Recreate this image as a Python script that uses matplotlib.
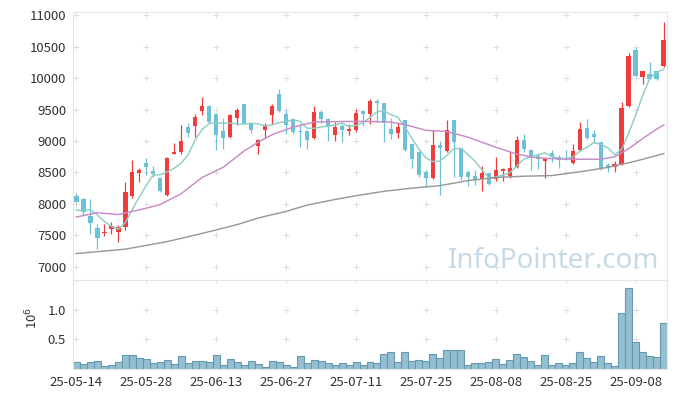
import matplotlib
matplotlib.use('Agg')
import matplotlib.pyplot as plt
import numpy as np
import pandas as pd

# daily candles, 25-05-14 .. 25-09-12 (85 trading days)
opens = [8120, 8085, 7802, 7614, 7540, 7598, 7550, 7630, 8123, 8497,
         8652, 8525, 8406, 8144, 8800, 8818, 9225, 9232, 9484, 9563,
         9421, 9153, 9063, 9368, 9590, 9284, 8921, 9168, 9416, 9747,
         9432, 9353, 9158, 9153, 9048, 9468, 9353, 9090, 9232, 9153,
         9168, 9484, 9432, 9642, 9605, 9195, 9126, 9326, 8947, 8826,
         8511, 8406, 8932, 8842, 9326, 8890, 8513, 8444, 8392, 8487,
         8392, 8530, 8445, 8593, 9017, 8857, 8766, 8678, 8815, 8752,
         8730, 8646, 8858, 9201, 9111, 8990, 8620, 8593, 8630, 9556,
         10445, 10021, 10058, 10111, 10196]
highs = [8165, 8100, 8085, 7684, 7673, 7711, 7660, 8353, 8700, 8577,
         8727, 8600, 8430, 8738, 8968, 9246, 9285, 9432, 9695, 9570,
         9430, 9368, 9421, 9526, 9590, 9300, 9037, 9284, 9590, 9826,
         9495, 9368, 9274, 9168, 9563, 9495, 9368, 9300, 9274, 9274,
         9510, 9495, 9668, 9668, 9605, 9368, 9284, 9337, 8958, 8842,
         8537, 9179, 8995, 9337, 9337, 8895, 8540, 8540, 8608, 8497,
         8751, 8577, 8830, 9085, 9111, 8874, 8793, 8730, 8858, 8778,
         8860, 8947, 9297, 9344, 9175, 8990, 8646, 8683, 9614, 10392,
         10471, 10111, 10259, 10111, 10894]
lows = [8010, 7818, 7523, 7283, 7497, 7523, 7390, 7577, 8100, 8342,
        8460, 8420, 8190, 8133, 8786, 8797, 9065, 9063, 9416, 9284,
        8853, 8879, 9053, 9258, 9274, 9127, 8800, 9053, 9274, 9458,
        9116, 9105, 8906, 8869, 9037, 9284, 9000, 9000, 8984, 9090,
        9142, 9232, 9274, 9300, 8984, 9037, 9053, 8842, 8563, 8432,
        8264, 8390, 8143, 8826, 8432, 8380, 8277, 8302, 8212, 8302,
        8365, 8365, 8404, 8577, 8830, 8539, 8555, 8408, 8672, 8567,
        8690, 8635, 8847, 9032, 8974, 8545, 8514, 8514, 8620, 9545,
        10032, 9905, 9979, 9974, 10180]
closes = [8030, 7866, 7695, 7454, 7560, 7652, 7630, 8187, 8502, 8540,
          8594, 8470, 8208, 8727, 8830, 9005, 9130, 9379, 9563, 9300,
          9100, 9053, 9405, 9495, 9284, 9168, 9010, 9247, 9563, 9474,
          9247, 9142, 9137, 9011, 9468, 9353, 9221, 9221, 9168, 9184,
          9442, 9432, 9642, 9610, 9290, 9116, 9221, 8853, 8711, 8458,
          8406, 8932, 8890, 9179, 8984, 8432, 8422, 8380, 8497, 8312,
          8540, 8556, 8577, 9017, 8874, 8730, 8715, 8715, 8752, 8699,
          8715, 8842, 9191, 9053, 9069, 8577, 8567, 8630, 9519, 10349,
          10037, 10111, 9979, 9979, 10603]
# volume in millions
volumes = [0.113, 0.085, 0.113, 0.13, 0.05, 0.068, 0.113, 0.23, 0.23, 0.18,
           0.164, 0.096, 0.113, 0.147, 0.079, 0.215, 0.096, 0.13, 0.13, 0.113,
           0.23, 0.062, 0.164, 0.113, 0.068, 0.13, 0.079, 0.034, 0.13, 0.113,
           0.062, 0.034, 0.215, 0.096, 0.147, 0.13, 0.096, 0.062, 0.096, 0.062,
           0.113, 0.068, 0.113, 0.096, 0.25, 0.28, 0.113, 0.28, 0.13, 0.147,
           0.13, 0.25, 0.18, 0.316, 0.316, 0.316, 0.062, 0.096, 0.096, 0.113,
           0.164, 0.079, 0.147, 0.25, 0.198, 0.13, 0.062, 0.23, 0.062, 0.096,
           0.062, 0.096, 0.28, 0.18, 0.113, 0.215, 0.096, 0.045, 0.944, 1.367,
           0.452, 0.28, 0.215, 0.198, 0.774]

# moving averages (history before the window not shown)
ma5_head = [7900, 7895, 7905, 7830]
ma20_idx = [0, 3, 6, 10, 12, 15, 18, 21, 24, 26, 28, 31, 34, 38, 42, 45, 47,
            50, 53, 56, 60, 63, 66, 70, 75, 77, 79, 81, 83, 84]
ma20_val = [7790, 7860, 7830, 7930, 7990, 8160, 8420, 8580, 8840, 8980, 9100,
            9220, 9300, 9310, 9310, 9300, 9260, 9170, 9150, 9060, 8900, 8790,
            8730, 8710, 8710, 8750, 8880, 9040, 9190, 9254]
ma60_idx = [0, 7, 13, 18, 23, 26, 30, 33, 37, 40, 44, 48, 52, 56, 60, 64, 68,
            72, 76, 80, 84]
ma60_val = [7210, 7280, 7400, 7530, 7670, 7775, 7880, 7980, 8070, 8130, 8200,
            8250, 8290, 8370, 8420, 8440, 8450, 8510, 8580, 8680, 8800]

tick_labels = ['25-05-14', '25-05-28', '25-06-13', '25-06-27', '25-07-11',
               '25-07-25', '25-08-08', '25-08-25', '25-09-08']

plt.rcParams['font.family'] = ['Noto Sans CJK KR', 'DejaVu Sans']

UP = '#f03c3c'
DOWN = '#6cc0d8'
EDGE = '#e6e6e6'
TXT = '#333333'

fig = plt.figure(figsize=(6.77, 3.98), dpi=100)
ax = fig.add_axes([73 / 677, 1 - 280 / 398, 594 / 677, 268 / 398])
axv = fig.add_axes([73 / 677, 1 - 369 / 398, 594 / 677, 89 / 398], sharex=ax)

o = np.array(opens, dtype=float)
h = np.array(highs, dtype=float)
l = np.array(lows, dtype=float)
c = np.array(closes, dtype=float)
x = np.arange(len(c))
colors = np.where(c >= o, UP, DOWN)

# grid "+" marks
xt = np.arange(0, len(c), 10)
yt = np.arange(7000, 11001, 500)
gx, gy = np.meshgrid(xt, yt)
ax.scatter(gx.ravel(), gy.ravel(), marker='+', s=16, c='#dddddd', lw=0.7, zorder=0)

ax.vlines(x, l, h, colors=colors, lw=0.9, zorder=2)
ax.bar(x, np.maximum(np.abs(c - o), 12), bottom=np.minimum(o, c), width=0.68,
       color=colors, zorder=3)

ma5 = pd.Series(c).rolling(5).mean().to_numpy()
ma5[:4] = ma5_head
ax.plot(x, ma5, color='#8dcfc4', lw=1.05, zorder=4)
ax.plot(ma20_idx, ma20_val, color='#c98bc6', lw=1.05, zorder=4)
ax.plot(ma60_idx, ma60_val, color='#999999', lw=1.05, zorder=4)

ax.text((659 - 73) / 594, 12 / 268, 'InfoPointer.com', transform=ax.transAxes,
        ha='right', va='baseline', fontsize=20, color='#c6d9e5',
        family=['Noto Sans', 'DejaVu Sans'], zorder=1)

ax.set_xlim(-0.45, 84.45)
ax.set_ylim(6790, 11050)
ax.set_yticks(yt)
ax.set_yticklabels([str(v) for v in yt])
ax.tick_params(axis='both', length=0, labelsize=9.5, colors=TXT, pad=5)
ax.tick_params(axis='x', labelbottom=False)
for s in ax.spines.values():
    s.set_color(EDGE)

# volume
vx, vy = np.meshgrid(xt, [0.5, 1.0, 1.5])
axv.scatter(vx.ravel(), vy.ravel(), marker='+', s=16, c='#dddddd', lw=0.7, zorder=0)
axv.bar(x, volumes, width=1.0, color='#94bfd0', edgecolor='#6499b0', lw=0.8, zorder=2)
axv.set_ylim(0, 1.5)
axv.set_yticks([0.5, 1.0])
axv.set_yticklabels(['0.5', '1.0'])
axv.set_xticks(xt)
axv.set_xticklabels(tick_labels)
axv.tick_params(axis='both', length=0, labelsize=9.5, colors=TXT, pad=5)
for s in axv.spines.values():
    s.set_color(EDGE)
fig.text(32 / 677, 1 - 318 / 398, '10$^6$', rotation=90, ha='center', va='center',
         fontsize=9.5, color=TXT)

plt.savefig('out.png', dpi=100)
